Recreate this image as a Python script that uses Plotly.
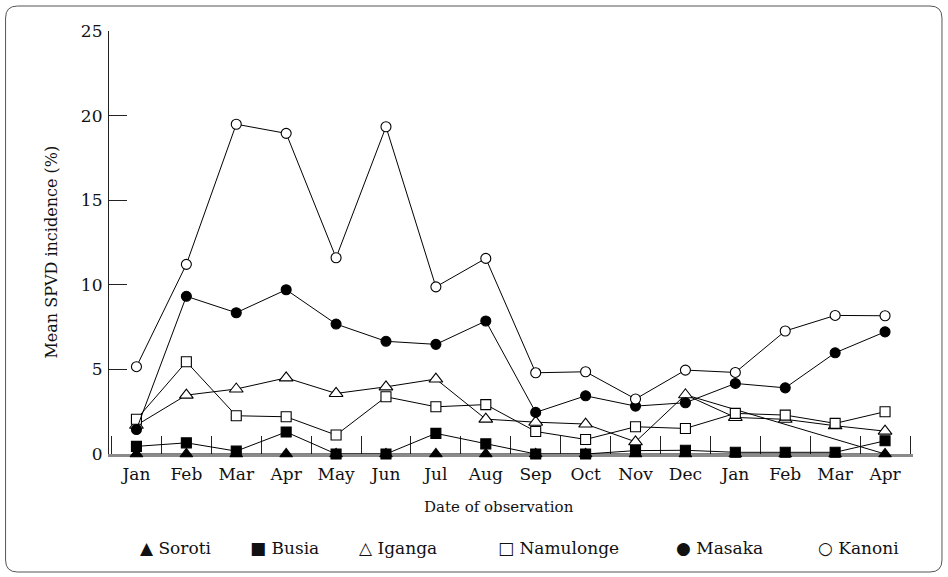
import plotly.graph_objects as go

# Observation months (two seasons, Jan to Apr of the following year)
months = ["Jan", "Feb", "Mar", "Apr", "May", "Jun", "Jul", "Aug",
          "Sep", "Oct", "Nov", "Dec", "Jan", "Feb", "Mar", "Apr"]

# Mean SPVD incidence (%) per site
soroti = [0, 0, 0, 0, 0, 0, 0, 0, 0, 0, 0, 0, 0, 0, 0, 0]
busia = [0.45, 0.66, 0.17, 1.3, 0, 0, 1.22, 0.6, 0, 0, 0.2, 0.22, 0.1, 0.1, 0.1, 0.78]
iganga = [1.7, 3.48, 3.84, 4.5, 3.58, 3.97, 4.43, 2.06, 1.88, 1.77, 0.72, 3.5, 2.16, 2.05, 1.67, 1.35]
namulonge = [2.05, 5.45, 2.26, 2.2, 1.12, 3.38, 2.79, 2.92, 1.33, 0.86, 1.61, 1.51, 2.4, 2.3, 1.81, 2.5]
masaka = [1.45, 9.32, 8.35, 9.71, 7.68, 6.66, 6.48, 7.86, 2.46, 3.44, 2.83, 3.03, 4.17, 3.91, 5.98, 7.22]
kanoni = [5.16, 11.21, 19.49, 18.95, 11.6, 19.34, 9.88, 11.56, 4.8, 4.86, 3.25, 4.96, 4.82, 7.27, 8.19, 8.17]

y_ticks = [0, 5, 10, 15, 20, 25]

x = list(range(len(months)))
boundaries = [i - 0.5 for i in range(len(months) + 1)]

FONT = "DejaVu Serif"
INK = "#111"
W, H = 948, 577
L, R, T, B = 108.5, 913.0, 31.0, 454.0
X_RANGE = [-0.55, 15.56]


def px(xp):
    return (xp - L) / (R - L)


def py(yp):
    return (B - yp) / (B - T)


series = [
    ("Soroti", soroti, "triangle-up", False, 11),
    ("Busia", busia, "square", False, 10),
    ("Iganga", iganga, "triangle-up", True, 12),
    ("Namulonge", namulonge, "square", True, 10),
    ("Masaka", masaka, "circle", False, 10),
    ("Kanoni", kanoni, "circle", True, 10),
]

fig = go.Figure()

# Connector drawn across the second-season Jan–Mar span
fig.add_trace(go.Scatter(
    x=[x[11], x[15]], y=[iganga[11], soroti[15]], mode="lines",
    line=dict(color="black", width=1), showlegend=False, hoverinfo="skip",
    cliponaxis=False,
))

for name, vals, sym, hollow, size in series:
    fig.add_trace(go.Scatter(
        x=x, y=vals, name=name, mode="lines+markers",
        line=dict(color="black", width=1),
        marker=dict(
            symbol=sym, size=size,
            color="white" if hollow else "black",
            line=dict(color="black", width=1.1),
        ),
        cliponaxis=False, showlegend=False,
    ))

# Invisible trace on the overlay axis so that its boundary ticks are drawn
fig.add_trace(go.Scatter(x=[None], y=[None], xaxis="x2", showlegend=False,
                         hoverinfo="skip"))

fig.update_layout(
    width=W, height=H,
    margin=dict(l=L, r=W - R, t=T, b=H - B, pad=0),
    paper_bgcolor="white", plot_bgcolor="white",
    font=dict(family=FONT, size=15, color=INK),
    showlegend=False,
    xaxis=dict(
        range=X_RANGE, tickmode="array", tickvals=x, ticktext=months,
        ticks="", showgrid=False, zeroline=False,
        showline=True, linecolor="#8a8a8a", linewidth=3,
        layer="below traces", ticklabelstandoff=3,
        tickfont=dict(family=FONT, size=17, color=INK),
    ),
    xaxis2=dict(
        overlaying="x", anchor="y", side="bottom", range=X_RANGE,
        tickmode="array", tickvals=boundaries, showticklabels=False,
        ticks="inside", ticklen=18, tickcolor="#222", tickwidth=1.2,
        showgrid=False, zeroline=False, showline=False,
        layer="below traces",
    ),
    yaxis=dict(
        range=[0, 25], tickmode="array", tickvals=y_ticks,
        ticks="inside", ticklen=18, tickcolor="#222", tickwidth=1.2,
        showgrid=False, zeroline=False,
        showline=True, linecolor="#222", linewidth=1.2,
        ticklabelstandoff=2,
        tickfont=dict(family=FONT, size=17, color=INK),
    ),
)

annotations = [
    dict(text="Date of observation", x=px(499), y=py(507), xref="paper", yref="paper",
         xanchor="center", yanchor="middle",
         showarrow=False, font=dict(family=FONT, size=15, color=INK)),
    dict(text="Mean SPVD incidence (%)", x=px(50), y=py(252), xref="paper", yref="paper",
         xanchor="center", yanchor="middle",
         showarrow=False, textangle=-90, font=dict(family=FONT, size=16, color=INK)),
]

legend_items = [("▲", "Soroti", 138), ("■", "Busia", 248), ("△", "Iganga", 357),
                ("□", "Namulonge", 496), ("●", "Masaka", 674), ("○", "Kanoni", 816)]
for glyph, label, xl in legend_items:
    annotations.append(dict(
        text=f"{glyph} {label}", x=px(xl), y=py(548), xref="paper", yref="paper",
        xanchor="left", yanchor="middle", showarrow=False,
        font=dict(family=FONT, size=17, color=INK),
    ))
fig.update_layout(annotations=annotations)

# Rounded frame around the whole figure
x0, y0, x1, y1, r = 5, 6, 942, 572, 12
path = (
    f"M {px(x0 + r)} {py(y0)} L {px(x1 - r)} {py(y0)} "
    f"Q {px(x1)} {py(y0)} {px(x1)} {py(y0 + r)} "
    f"L {px(x1)} {py(y1 - r)} Q {px(x1)} {py(y1)} {px(x1 - r)} {py(y1)} "
    f"L {px(x0 + r)} {py(y1)} Q {px(x0)} {py(y1)} {px(x0)} {py(y1 - r)} "
    f"L {px(x0)} {py(y0 + r)} Q {px(x0)} {py(y0)} {px(x0 + r)} {py(y0)} Z"
)
fig.add_shape(type="path", path=path, xref="paper", yref="paper",
              line=dict(color="#555", width=1), layer="below")

fig.write_html("out.html")
